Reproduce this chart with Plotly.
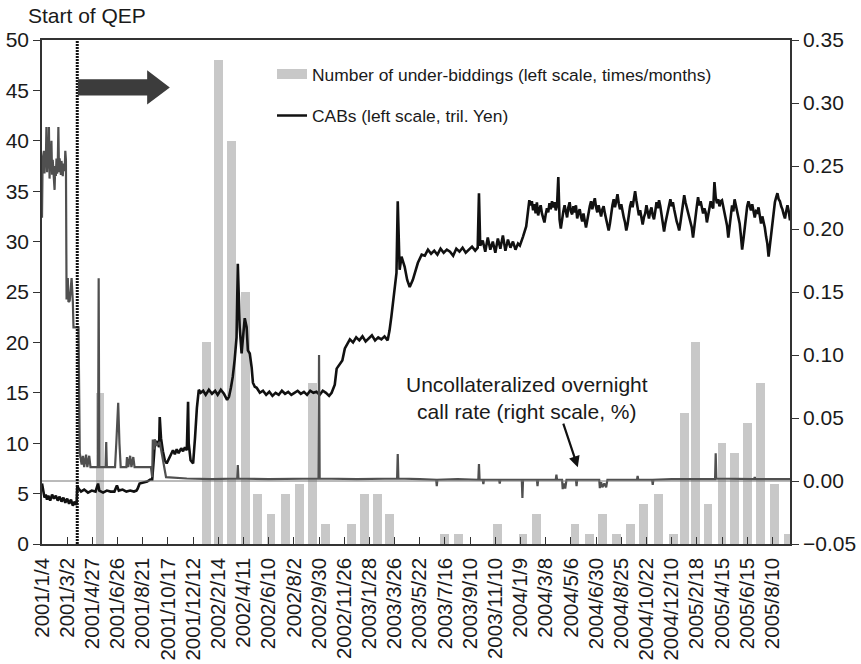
import numpy as np
import pandas as pd
import plotly.graph_objects as go

# ---- x axis: trading-day index, a date label every 40 trading days ----
tick_labels = [
    "2001/1/4", "2001/3/2", "2001/4/27", "2001/6/26", "2001/8/21", "2001/10/17", "2001/12/12",
    "2002/2/14", "2002/4/11", "2002/6/10", "2002/8/2", "2002/9/30", "2002/11/26",
    "2003/1/28", "2003/3/26", "2003/5/22", "2003/7/16", "2003/9/10", "2003/11/10",
    "2004/1/9", "2004/3/8", "2004/5/6", "2004/6/30", "2004/8/25", "2004/10/22", "2004/12/10",
    "2005/2/18", "2005/4/15", "2005/6/15", "2005/8/10",
]
TICK_STEP = 40
X_END = 1188
QEP_DAY = 56  # trading day of the start of quantitative easing

# ---- monthly number of under-biddings (Jan 2001 - Sep 2005) ----
underbid_months = pd.date_range("2001-01-01", "2005-09-01", freq="MS")
underbid_counts = [
    0, 0, 0, 0, 15, 0, 0, 0, 0, 0, 0, 0,          # 2001
    20, 48, 40, 25, 5, 3, 5, 6, 16, 2, 0, 2,      # 2002
    5, 5, 3, 0, 0, 0, 1, 1, 0, 0, 2, 0,           # 2003
    1, 3, 0, 0, 2, 1, 3, 1, 2, 4, 5, 1,           # 2004
    13, 20, 4, 10, 9, 12, 16, 6, 1,               # 2005
]

# ---- current account balances (tril. yen), by trading day ----
# 2001 - 2003: irregular readings; from day 776 on: every second trading day
cab_days_early = [
    0, 2, 4, 6, 8, 10, 13, 16, 19, 22, 25, 28, 31, 34, 37, 40, 43, 46, 49, 52, 54, 55,
    56, 58, 62, 67, 73, 79, 85, 89, 91, 97, 103, 109, 115, 119, 122, 128, 134, 140, 146,
    150, 152, 155, 161, 167, 172, 175, 177, 179, 183, 186, 187, 189, 192, 195, 198, 202,
    205, 208, 211, 214, 217, 221, 224, 227, 230, 232, 233, 236, 240, 243, 246, 249, 252,
    256, 260, 265, 270, 275, 279, 284, 289, 294, 297, 300, 303, 306, 309, 311, 313, 314,
    317, 319, 322, 325, 327, 330, 333, 335, 338, 341, 346,
    351, 356, 361, 366, 371, 376, 381, 386, 391, 396, 401, 406, 411, 416, 421, 426, 431,
    436, 441, 446, 451, 456, 460,
    465, 468, 473, 477, 481, 486, 489, 494, 499, 504, 509, 514, 519, 524, 529, 534, 539,
    544, 549, 552, 555, 558, 561, 563, 565, 567, 568, 571, 576, 580, 584, 589, 593, 597,
    603, 608, 613, 618, 623, 628, 633, 638, 643, 648, 653, 658, 663, 668, 673, 678, 683,
    688, 692, 694, 696, 700, 704, 708, 712, 716, 720, 724, 728, 732, 736, 740, 744, 748,
    752, 756, 759, 764, 769, 774,
]
cab_values_early = [
    6.0, 5.1, 4.6, 4.9, 4.4, 4.8, 4.3, 4.9, 4.5, 4.8, 4.3, 4.7, 4.2, 4.6, 4.1, 4.5, 4.0,
    4.4, 3.8, 4.2, 3.9, 4.0,
    5.8, 5.5, 5.2, 5.4, 5.1, 5.3, 5.2, 6.0, 5.3, 5.1, 5.3, 5.2, 5.2, 5.8, 5.3, 5.4, 5.2,
    5.3, 5.2, 5.3, 5.5, 6.0, 6.1, 6.2, 6.4, 6.4, 8.0, 9.8, 10.2, 9.6, 12.6, 10.5, 9.2,
    8.3, 8.0, 8.6, 8.9, 9.3, 8.9, 9.4, 9.0, 9.5, 9.2, 9.6, 9.3, 14.1, 10.0, 8.3, 8.0, 10.5,
    13.5, 15.3, 15.0,
    15.2, 14.8, 15.3, 14.9, 15.2, 14.8, 15.3, 14.9, 14.3, 14.6, 15.5, 16.6, 18.3, 20.5,
    27.8, 24.5, 21.5, 18.9, 20.2, 22.4, 21.5, 19.2, 18.9, 17.5, 16.0, 15.6, 15.5, 15.0,
    15.2, 14.8, 15.1, 14.7, 15.0, 14.8, 15.2, 14.9, 15.1, 14.8, 15.0, 15.2, 14.9, 15.1,
    14.8, 15.2, 15.0, 15.1, 14.8, 15.2, 15.0, 14.7, 15.0,
    15.8, 17.4, 17.9, 18.2, 19.4, 20.0, 20.3, 20.0, 20.5, 20.2, 20.6, 20.1, 20.4, 20.7,
    20.2, 20.5, 20.3, 20.6, 20.2, 21.2, 22.6, 24.2, 25.5, 26.9, 34.0, 29.0, 27.2, 28.5,
    27.5, 26.2, 25.5, 26.2, 27.0, 27.9, 28.7, 28.6, 29.2, 28.8, 29.1, 28.7, 29.3, 28.9,
    29.2, 29.0, 28.6, 29.3, 29.0, 29.4, 28.9, 29.2, 29.5, 29.1, 29.4, 34.8, 29.6, 30.1,
    29.0, 30.4, 29.2, 30.0, 28.9, 30.3, 29.3, 30.6, 29.1, 30.2, 29.4, 30.0, 29.2, 29.8,
    29.6, 30.5, 31.5, 34.1,
]
CAB_LATE_START, CAB_LATE_STEP = 776, 2
cab_values_late = [
    33.6, 34.0, 33.1, 33.7, 32.8, 33.9, 32.6, 33.2, 33.6, 32.8,
    32.3, 31.9, 32.7, 33.3, 32.9, 33.8, 33.2, 34.0, 33.4, 33.9,
    33.1, 33.6, 36.4, 32.2, 31.3, 32.4, 33.0, 33.6, 32.9, 32.4,
    33.4, 33.9, 33.0, 32.7, 33.5, 32.9, 33.6, 32.3, 32.9, 33.2,
    32.5, 32.0, 32.8, 31.9, 31.4, 32.1, 32.9, 33.5, 34.0, 33.2,
    33.8, 34.3, 33.4, 32.9, 33.6, 33.0, 32.5, 33.2, 33.5, 32.8,
    32.3, 31.6, 31.1, 31.8, 32.9, 33.6, 34.2, 33.4, 34.0, 34.7,
    33.8, 33.2, 33.7, 32.9, 32.4, 31.9, 31.1, 31.7, 32.8, 33.5,
    34.0, 33.4, 34.2, 35.0, 34.1, 33.5, 32.6, 33.1, 32.2, 31.7,
    32.4, 32.8, 33.6, 32.9, 32.3, 33.0, 33.4, 32.6, 32.2, 33.0,
    33.9, 33.3, 34.1, 33.5, 32.6, 32.0, 31.0, 31.8, 32.5, 33.2,
    33.8, 34.2, 33.5, 33.9, 33.2, 32.5, 32.0, 31.6, 31.1, 31.9,
    33.0, 33.8, 34.6, 33.9, 33.4, 32.8, 32.2, 31.8, 31.4, 30.4,
    31.6, 32.6, 33.5, 34.4, 33.6, 34.0, 33.2, 32.8, 33.3, 32.9,
    31.9, 32.6, 33.2, 34.0, 33.5, 33.3, 35.9, 34.4, 33.8, 34.2,
    33.5, 34.0, 34.1, 33.4, 33.0, 32.4, 31.6, 30.4, 31.3, 32.2,
    33.6, 33.0, 34.2, 33.6, 33.1, 32.4, 31.8, 30.6, 29.2, 30.2,
    31.4, 32.6, 33.5, 34.0, 33.4, 33.1, 33.7, 33.2, 32.4, 33.0,
    32.9, 33.4, 32.6, 31.8, 32.5, 32.0, 31.4, 30.5, 29.8, 28.5,
    29.6, 30.8, 31.8, 33.1, 33.9, 34.4, 34.8, 34.2, 34.0, 33.5,
    33.2, 32.7, 32.3, 33.0, 33.6, 33.0, 32.1,
]
cab_days = cab_days_early + [CAB_LATE_START + CAB_LATE_STEP * i for i in range(len(cab_values_late))]
cab_values = cab_values_early + cab_values_late

# ---- uncollateralized overnight call rate (%), by trading day ----
call_days = [
    0, 1, 3, 4, 5, 6, 7, 8, 9, 10, 11, 12, 13, 14, 15, 16, 17, 18, 20, 21, 22, 23, 24,
    25, 26, 27, 28, 30, 31, 33, 34, 36, 37, 38,
    39, 41, 42, 44, 46, 47, 49, 50, 58, 60, 63, 65, 67, 70, 72, 75, 77, 89, 90, 91,
    101, 102, 103, 116, 118, 121, 123, 125, 134, 135, 137, 140, 142, 145, 147, 173,
    175, 176, 178, 179, 182, 187, 197, 230, 270, 310, 311, 312, 360, 400, 439, 440,
    441, 500, 564, 565, 566, 600, 626, 627, 628, 660, 693, 694, 695, 700, 701, 702,
    726, 727, 728, 762, 763, 764, 786, 787, 788, 816, 817, 818, 826, 827, 829, 831,
    833, 848, 849, 850, 885, 886, 888, 890, 893, 896, 898, 945, 946, 947, 969, 970,
    971, 1000, 1069, 1070, 1071, 1131, 1132, 1133, 1188,
]
call_values = [
    0.209, 0.255, 0.262, 0.244, 0.258, 0.250, 0.281, 0.245, 0.262, 0.248, 0.281, 0.240,
    0.257, 0.246, 0.270, 0.243, 0.255, 0.247, 0.231, 0.250, 0.242, 0.256, 0.244,
    0.250, 0.281, 0.245, 0.256, 0.243, 0.254, 0.242, 0.252, 0.246, 0.262, 0.255,
    0.144, 0.161, 0.142, 0.143, 0.160, 0.161, 0.142, 0.122, 0.122, 0.022, 0.013, 0.020,
    0.011, 0.021, 0.011, 0.020, 0.011, 0.011, 0.161, 0.011,
    0.011, 0.031, 0.011, 0.011, 0.030, 0.062, 0.030, 0.011, 0.011, 0.019, 0.011, 0.020,
    0.011, 0.019, 0.011, 0.011,
    0.003, 0.033, 0.025, 0.033, 0.028, 0.031, 0.003, 0.002, 0.0015, 0.002, 0.0127, 0.002,
    0.0015, 0.002, 0.002, 0.100,
    0.002, 0.0015, 0.002, 0.0214, 0.002, 0.0015, 0.001, -0.004, 0.001, 0.0015, 0.001,
    0.0135, 0.001, 0.001, -0.0024, 0.001,
    0.001, -0.002, 0.001, 0.001, -0.0135, 0.001, 0.001, -0.004, 0.001, 0.001, 0.005,
    0.001, 0.001, -0.0064, -0.002, -0.006,
    0.001, 0.001, -0.004, 0.001, 0.001, -0.0056, -0.001, -0.005, -0.002, -0.005, 0.001,
    0.001, 0.004, 0.001, 0.001, -0.003,
    0.001, 0.0015, 0.0015, 0.022, 0.002, 0.0015, 0.003, 0.0015, 0.0015,
]

# ---- map calendar dates onto the trading-day axis via the labelled dates ----
tick_days = np.arange(len(tick_labels)) * TICK_STEP
tick_ord = np.array([d.toordinal() for d in pd.to_datetime(tick_labels, format="%Y/%m/%d")])


def trading_day(ts):
    o = ts.toordinal()
    if o <= tick_ord[-1]:
        return float(np.interp(o, tick_ord, tick_days))
    slope = TICK_STEP / (tick_ord[-1] - tick_ord[-2])
    return float(tick_days[-1] + (o - tick_ord[-1]) * slope)


bar_x = [trading_day(m + pd.Timedelta(days=14)) for m in underbid_months]

FONT = "Liberation Sans, Arial, Helvetica, sans-serif"
INK = "#1a1a1a"

fig = go.Figure()

fig.add_trace(go.Bar(
    x=bar_x, y=underbid_counts, width=14,
    marker=dict(color="#c8c8c8", line=dict(width=0)),
    showlegend=False, hoverinfo="x+y",
))
# legend key for the bars (a wide grey block)
fig.add_trace(go.Scatter(
    x=[None], y=[None], mode="lines",
    line=dict(color="#c8c8c8", width=12),
    name="Number of under-biddings (left scale, times/months)",
    legendgroup="bars",
))
fig.add_trace(go.Scatter(
    x=cab_days, y=cab_values, mode="lines",
    line=dict(color="#111111", width=2.6),
    name="CABs (left scale, tril. Yen)",
    legendgroup="cabs",
))
fig.add_trace(go.Scatter(
    x=call_days, y=call_values, mode="lines", yaxis="y2",
    line=dict(color="#505050", width=2.2),
    showlegend=False,
))

# big arrow pointing forward from the start of QEP
ay0, ay1, hy0, hy1, tip_y = 44.5, 46.1, 43.6, 47.0, 45.3
body_end, tip_x = QEP_DAY + 111, QEP_DAY + 147
arrow_path = (
    f"M {QEP_DAY + 1},{ay0} L {body_end},{ay0} L {body_end},{hy0} L {tip_x},{tip_y} "
    f"L {body_end},{hy1} L {body_end},{ay1} L {QEP_DAY + 1},{ay1} Z"
)

axis_common = dict(
    tickwidth=1.3, tickcolor="#333", ticklen=7,
    showline=True, linecolor="#333", linewidth=1.5,
    showgrid=False, zeroline=False, automargin=False,
)

fig.update_layout(
    width=861, height=664,
    margin=dict(l=42, r=71, t=40, b=120),
    paper_bgcolor="white", plot_bgcolor="white",
    font=dict(family=FONT, color=INK, size=21),
    bargap=0,
    xaxis=dict(
        range=[0, X_END], tickmode="array", tickvals=tick_days, ticktext=tick_labels,
        tickangle=-90, ticks="inside", mirror=True, tickfont=dict(size=20.5),
        ticklabelstandoff=4,
        **axis_common,
    ),
    yaxis=dict(
        range=[0, 50], dtick=5, ticks="outside", tickfont=dict(size=21),
        **axis_common,
    ),
    yaxis2=dict(
        range=[-0.05, 0.35], dtick=0.05, tickformat=".2f", overlaying="y", side="right",
        ticks="outside", tickfont=dict(size=21),
        **axis_common,
    ),
    legend=dict(
        x=0.3075, y=0.968, xanchor="left", yanchor="top",
        font=dict(size=17.4, family=FONT, color=INK),
        bgcolor="rgba(0,0,0,0)", traceorder="grouped", tracegroupgap=16,
        itemwidth=30,
    ),
    shapes=[
        dict(type="line", xref="paper", x0=0, x1=1, yref="y2", y0=0, y1=0,
             line=dict(color="#777", width=1), layer="above"),
        dict(type="line", xref="x", x0=QEP_DAY, x1=QEP_DAY, yref="paper", y0=0, y1=1,
             line=dict(color="#111", width=3, dash="2px,1px"), layer="above"),
        dict(type="path", xref="x", yref="y", path=arrow_path,
             fillcolor="#3c3c3c", line=dict(width=0), layer="above"),
    ],
    annotations=[
        dict(text="Start of QEP", xref="x", x=QEP_DAY, xanchor="center", xshift=10,
             yref="paper", y=1.0496, yanchor="middle", showarrow=False,
             font=dict(size=21)),
        dict(text="Uncollateralized overnight<br>call rate (right scale, %)",
             xref="x", x=771, yref="y2", y=0.0658, showarrow=False,
             align="center", font=dict(size=21)),
        dict(text="", xref="x", x=851, yref="y2", y=0.011, ax=-15, ay=-45,
             showarrow=True, arrowhead=2, arrowsize=1, arrowwidth=2.2, arrowcolor="#111"),
    ],
)

fig.write_html("out.html")
